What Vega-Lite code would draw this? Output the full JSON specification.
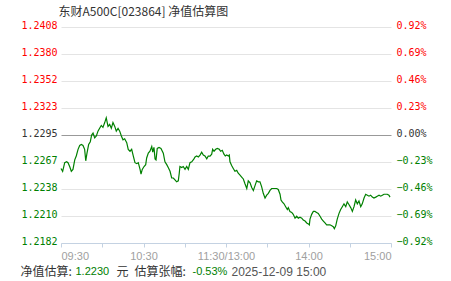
{
  "$schema": "https://vega.github.io/schema/vega-lite/v6.json",
  "width": 330,
  "height": 216,
  "autosize": {"type": "none"},
  "padding": {"left": 61, "top": 27, "right": 60, "bottom": 38},
  "background": "white",
  "config": {"view": {"stroke": null}, "font": "Liberation Sans"},
  "data": {"values": [
    {"t":0.0,"v":1.2260},{"t":1.2,"v":1.2257},{"t":2.7,"v":1.2266},{"t":4.1,"v":1.2267},{"t":5.1,"v":1.2266},{"t":6.3,"v":1.2262},{"t":7.5,"v":1.2257},{"t":8.7,"v":1.2259},{"t":10.0,"v":1.2269},{"t":11.1,"v":1.2273},
    {"t":12.4,"v":1.2280},{"t":13.6,"v":1.2284},{"t":14.8,"v":1.2285},{"t":16.0,"v":1.2284},{"t":17.2,"v":1.2280},{"t":18.0,"v":1.2268},{"t":18.9,"v":1.2276},{"t":20.1,"v":1.2285},{"t":21.3,"v":1.2288},{"t":22.3,"v":1.2295},
    {"t":23.3,"v":1.2297},{"t":24.5,"v":1.2292},{"t":25.7,"v":1.2294},{"t":26.9,"v":1.2299},{"t":28.1,"v":1.2302},{"t":29.3,"v":1.2305},{"t":30.5,"v":1.2303},{"t":31.8,"v":1.2308},{"t":32.9,"v":1.2313},{"t":34.2,"v":1.2304},
    {"t":35.4,"v":1.2306},{"t":36.6,"v":1.2302},{"t":37.8,"v":1.2308},{"t":39.1,"v":1.2304},{"t":40.2,"v":1.2299},{"t":41.5,"v":1.2302},{"t":42.7,"v":1.2299},{"t":43.9,"v":1.2294},{"t":45.1,"v":1.2290},{"t":46.3,"v":1.2291},
    {"t":47.8,"v":1.2287},{"t":48.9,"v":1.2280},{"t":50.2,"v":1.2278},{"t":51.4,"v":1.2280},{"t":52.6,"v":1.2273},{"t":53.8,"v":1.2266},{"t":55.1,"v":1.2265},{"t":56.2,"v":1.2266},{"t":57.5,"v":1.2259},{"t":58.2,"v":1.2254},
    {"t":59.1,"v":1.2259},{"t":60.4,"v":1.2262},{"t":61.6,"v":1.2264},{"t":62.3,"v":1.2271},{"t":63.5,"v":1.2276},{"t":64.7,"v":1.2278},{"t":66.0,"v":1.2283},{"t":66.7,"v":1.2277},{"t":67.6,"v":1.2282},{"t":68.4,"v":1.2270},
    {"t":69.1,"v":1.2269},{"t":70.0,"v":1.2281},{"t":71.3,"v":1.2282},{"t":72.7,"v":1.2281},{"t":74.4,"v":1.2276},{"t":75.6,"v":1.2267},{"t":76.9,"v":1.2264},{"t":78.0,"v":1.2261},{"t":79.3,"v":1.2257},{"t":80.5,"v":1.2250},
    {"t":81.7,"v":1.2250},{"t":82.9,"v":1.2248},{"t":84.1,"v":1.2246},{"t":85.3,"v":1.2247},{"t":86.0,"v":1.2255},{"t":86.5,"v":1.2262},{"t":87.8,"v":1.2261},{"t":88.9,"v":1.2262},{"t":90.2,"v":1.2259},{"t":91.4,"v":1.2262},
    {"t":92.6,"v":1.2259},{"t":93.8,"v":1.2266},{"t":95.1,"v":1.2267},{"t":96.7,"v":1.2270},{"t":97.5,"v":1.2272},{"t":98.7,"v":1.2273},{"t":99.9,"v":1.2272},{"t":101.1,"v":1.2274},{"t":102.3,"v":1.2277},{"t":103.5,"v":1.2274},
    {"t":104.7,"v":1.2273},{"t":106.0,"v":1.2270},{"t":107.1,"v":1.2273},{"t":108.4,"v":1.2273},{"t":109.6,"v":1.2275},{"t":110.3,"v":1.2280},{"t":111.3,"v":1.2278},{"t":112.5,"v":1.2280},{"t":113.7,"v":1.2281},{"t":115.1,"v":1.2280},
    {"t":116.1,"v":1.2278},{"t":117.3,"v":1.2279},{"t":118.5,"v":1.2275},{"t":119.5,"v":1.2273},{"t":120.5,"v":1.2274},{"t":121.7,"v":1.2273},{"t":122.4,"v":1.2274},{"t":122.9,"v":1.2267},{"t":124.1,"v":1.2263},{"t":125.3,"v":1.2260},
    {"t":126.5,"v":1.2257},{"t":127.8,"v":1.2258},{"t":128.9,"v":1.2255},{"t":130.2,"v":1.2253},{"t":131.4,"v":1.2251},{"t":132.6,"v":1.2249},{"t":133.8,"v":1.2244},{"t":135.1,"v":1.2239},{"t":136.2,"v":1.2247},{"t":137.5,"v":1.2245},
    {"t":138.7,"v":1.2240},{"t":139.9,"v":1.2237},{"t":141.1,"v":1.2242},{"t":142.3,"v":1.2247},{"t":143.5,"v":1.2246},{"t":144.7,"v":1.2246},{"t":145.9,"v":1.2241},{"t":147.1,"v":1.2234},{"t":148.4,"v":1.2229},{"t":149.6,"v":1.2232},
    {"t":150.8,"v":1.2234},{"t":152.0,"v":1.2237},{"t":153.2,"v":1.2239},{"t":154.4,"v":1.2239},{"t":155.6,"v":1.2239},{"t":156.9,"v":1.2239},{"t":158.0,"v":1.2238},{"t":159.3,"v":1.2233},{"t":160.0,"v":1.2227},{"t":160.9,"v":1.2225},
    {"t":162.2,"v":1.2223},{"t":163.4,"v":1.2220},{"t":164.6,"v":1.2217},{"t":165.3,"v":1.2219},{"t":166.5,"v":1.2215},{"t":167.8,"v":1.2214},{"t":168.9,"v":1.2212},{"t":170.2,"v":1.2208},{"t":171.4,"v":1.2210},{"t":172.6,"v":1.2208},
    {"t":173.8,"v":1.2209},{"t":175.1,"v":1.2208},{"t":176.2,"v":1.2206},{"t":177.5,"v":1.2205},{"t":178.7,"v":1.2203},{"t":179.9,"v":1.2202},{"t":180.6,"v":1.2201},{"t":181.1,"v":1.2207},{"t":182.3,"v":1.2212},{"t":183.5,"v":1.2215},
    {"t":184.7,"v":1.2215},{"t":185.9,"v":1.2214},{"t":187.1,"v":1.2213},{"t":188.4,"v":1.2210},{"t":189.6,"v":1.2207},{"t":190.8,"v":1.2205},{"t":192.0,"v":1.2203},{"t":193.2,"v":1.2201},{"t":194.4,"v":1.2201},{"t":195.6,"v":1.2201},
    {"t":196.9,"v":1.2200},{"t":198.0,"v":1.2199},{"t":198.8,"v":1.2197},{"t":199.8,"v":1.2200},{"t":200.9,"v":1.2207},{"t":202.2,"v":1.2213},{"t":203.4,"v":1.2217},{"t":204.6,"v":1.2220},{"t":205.8,"v":1.2223},{"t":207.1,"v":1.2220},
    {"t":208.2,"v":1.2225},{"t":209.5,"v":1.2222},{"t":210.7,"v":1.2219},{"t":211.9,"v":1.2215},{"t":213.1,"v":1.2220},{"t":214.3,"v":1.2227},{"t":215.5,"v":1.2223},{"t":216.7,"v":1.2226},{"t":218.0,"v":1.2220},{"t":219.1,"v":1.2223},
    {"t":220.4,"v":1.2229},{"t":221.6,"v":1.2233},{"t":222.8,"v":1.2232},{"t":224.0,"v":1.2231},{"t":225.2,"v":1.2232},{"t":226.4,"v":1.2230},{"t":227.6,"v":1.2229},{"t":228.9,"v":1.2230},{"t":230.0,"v":1.2231},{"t":231.3,"v":1.2232},
    {"t":232.5,"v":1.2231},{"t":233.7,"v":1.2232},{"t":234.9,"v":1.2233},{"t":236.1,"v":1.2233},{"t":237.3,"v":1.2233},{"t":238.5,"v":1.2232},{"t":239.3,"v":1.2230}
  ]},
  "resolve": {"axis": {"x": "independent", "y": "independent"}},
  "layer": [
    {
      "mark": {"type": "line", "strokeOpacity": 0},
      "encoding": {
        "x": {"field": "t", "type": "quantitative", "scale": {"domain": [0, 240], "nice": false, "zero": false},
          "axis": {"orient": "top", "labels": false, "ticks": false, "domain": false, "grid": false, "title": "东财A500C[023864] 净值估算图", "titleX": -3, "titleY": -16, "titleAlign": "left", "titleAnchor": "start", "titleBaseline": "middle", "titleFont": "Noto Sans CJK SC", "titleFontSize": 12, "titleFontWeight": "normal", "titleColor": "#333333"}},
        "y": {"field": "v", "type": "quantitative", "scale": {"domain": [1.2182, 1.2408], "nice": false, "zero": false},
          "axis": {"orient": "left", "values": [1.2182, 1.2210, 1.2238, 1.2267, 1.2323, 1.2352, 1.2380, 1.2408],
            "labels": false, "ticks": false, "domain": false, "title": null,
            "grid": true, "gridColor": "#e4e4e4", "gridWidth": 1}}
      }
    },
    {
      "mark": {"type": "line", "color": "#008000", "strokeWidth": 1.2},
      "encoding": {
        "x": {"field": "t", "type": "quantitative", "scale": {"domain": [0, 240], "nice": false, "zero": false},
          "axis": {"values": [0, 30, 60, 90, 120, 150, 180, 210, 240],
            "labelExpr": "datum.value == 0 ? '09:30' : datum.value == 60 ? '10:30' : datum.value == 120 ? '11:30/13:00' : datum.value == 180 ? '14:00' : datum.value == 240 ? '15:00' : ''",
            "labelFlush": true, "labelOverlap": false, "labelColor": "#a0a0a0", "labelFont": "Liberation Sans", "labelFontSize": 11, "labelPadding": 3,
            "tickColor": "#c4d2e2", "tickSize": 4, "domainColor": "#c4d2e2", "grid": false, "title": null}},
        "y": {"field": "v", "type": "quantitative", "scale": {"domain": [1.2182, 1.2408], "nice": false, "zero": false},
          "axis": {"orient": "left", "values": [1.2182, 1.2210, 1.2238, 1.2267, 1.2295, 1.2323, 1.2352, 1.2380, 1.2408],
            "format": ".4f", "labelFont": "DejaVu Sans Mono", "labelFontSize": 10, "ticks": false, "domain": false, "labelPadding": 4, "labelOffset": -1.5, "title": null,
            "labelColor": {"condition": [{"test": "datum.value > 1.22955", "value": "#ff0000"}, {"test": "datum.value < 1.22945", "value": "#008000"}], "value": "#333333"},
            "grid": true,
            "gridColor": {"condition": {"test": "abs(datum.value - 1.2295) < 0.00001", "value": "#999999"}, "value": "rgba(0,0,0,0)"},
            "gridWidth": 1}}
      }
    },
    {
      "mark": {"type": "line", "strokeOpacity": 0},
      "encoding": {
        "x": {"field": "t", "type": "quantitative", "scale": {"domain": [0, 240], "nice": false, "zero": false},
          "axis": {"orient": "bottom", "labels": false, "ticks": false, "domain": false, "grid": false, "title": "净值估算:", "titleX": -41, "titleY": 28, "titleAlign": "left", "titleAnchor": "start", "titleBaseline": "middle", "titleFont": "Noto Sans CJK SC", "titleFontSize": 12, "titleFontWeight": "normal", "titleColor": "#333333"}},
        "y": {"field": "v", "type": "quantitative", "scale": {"domain": [1.2182, 1.2408], "nice": false, "zero": false},
          "axis": {"orient": "right", "values": [1.2182, 1.2210, 1.2238, 1.2267, 1.2295, 1.2323, 1.2352, 1.2380, 1.2408],
            "labelExpr": "format((datum.value / 1.2295 - 1) * 100, '.2f') + '%'",
            "labelFont": "DejaVu Sans Mono", "labelFontSize": 10, "ticks": false, "domain": false, "grid": false, "labelPadding": 5, "labelOffset": -1.5, "title": null,
            "labelColor": {"condition": [{"test": "datum.value > 1.22955", "value": "#ff0000"}, {"test": "datum.value < 1.22945", "value": "#008000"}], "value": "#333333"}}}
      }
    },
    {
      "mark": {"type": "line", "strokeOpacity": 0},
      "encoding": {
        "x": {"field": "t", "type": "quantitative", "scale": {"domain": [0, 240], "nice": false, "zero": false},
          "axis": {"orient": "bottom", "labels": false, "ticks": false, "domain": false, "grid": false, "title": "1.2230", "titleX": 14, "titleY": 28, "titleAlign": "left", "titleAnchor": "start", "titleBaseline": "middle", "titleFont": "Liberation Sans", "titleFontSize": 11, "titleFontWeight": "normal", "titleColor": "#008000"}},
        "y": {"field": "v", "type": "quantitative", "scale": {"domain": [1.2182, 1.2408], "nice": false, "zero": false}, "axis": null}
      }
    },
    {
      "mark": {"type": "line", "strokeOpacity": 0},
      "encoding": {
        "x": {"field": "t", "type": "quantitative", "scale": {"domain": [0, 240], "nice": false, "zero": false},
          "axis": {"orient": "bottom", "labels": false, "ticks": false, "domain": false, "grid": false, "title": "元", "titleX": 55, "titleY": 28, "titleAlign": "left", "titleAnchor": "start", "titleBaseline": "middle", "titleFont": "Noto Sans CJK SC", "titleFontSize": 12, "titleFontWeight": "normal", "titleColor": "#333333"}},
        "y": {"field": "v", "type": "quantitative", "scale": {"domain": [1.2182, 1.2408], "nice": false, "zero": false}, "axis": null}
      }
    },
    {
      "mark": {"type": "line", "strokeOpacity": 0},
      "encoding": {
        "x": {"field": "t", "type": "quantitative", "scale": {"domain": [0, 240], "nice": false, "zero": false},
          "axis": {"orient": "bottom", "labels": false, "ticks": false, "domain": false, "grid": false, "title": "估算张幅:", "titleX": 73, "titleY": 28, "titleAlign": "left", "titleAnchor": "start", "titleBaseline": "middle", "titleFont": "Noto Sans CJK SC", "titleFontSize": 12, "titleFontWeight": "normal", "titleColor": "#333333"}},
        "y": {"field": "v", "type": "quantitative", "scale": {"domain": [1.2182, 1.2408], "nice": false, "zero": false}, "axis": null}
      }
    },
    {
      "mark": {"type": "line", "strokeOpacity": 0},
      "encoding": {
        "x": {"field": "t", "type": "quantitative", "scale": {"domain": [0, 240], "nice": false, "zero": false},
          "axis": {"orient": "bottom", "labels": false, "ticks": false, "domain": false, "grid": false, "title": "-0.53%", "titleX": 131, "titleY": 28, "titleAlign": "left", "titleAnchor": "start", "titleBaseline": "middle", "titleFont": "Liberation Sans", "titleFontSize": 11, "titleFontWeight": "normal", "titleColor": "#008000"}},
        "y": {"field": "v", "type": "quantitative", "scale": {"domain": [1.2182, 1.2408], "nice": false, "zero": false}, "axis": null}
      }
    },
    {
      "mark": {"type": "line", "strokeOpacity": 0},
      "encoding": {
        "x": {"field": "t", "type": "quantitative", "scale": {"domain": [0, 240], "nice": false, "zero": false},
          "axis": {"orient": "bottom", "labels": false, "ticks": false, "domain": false, "grid": false, "title": "2025-12-09 15:00", "titleX": 170, "titleY": 28, "titleAlign": "left", "titleAnchor": "start", "titleBaseline": "middle", "titleFont": "Liberation Sans", "titleFontSize": 12, "titleFontWeight": "normal", "titleColor": "#555555"}},
        "y": {"field": "v", "type": "quantitative", "scale": {"domain": [1.2182, 1.2408], "nice": false, "zero": false}, "axis": null}
      }
    }
  ]
}
